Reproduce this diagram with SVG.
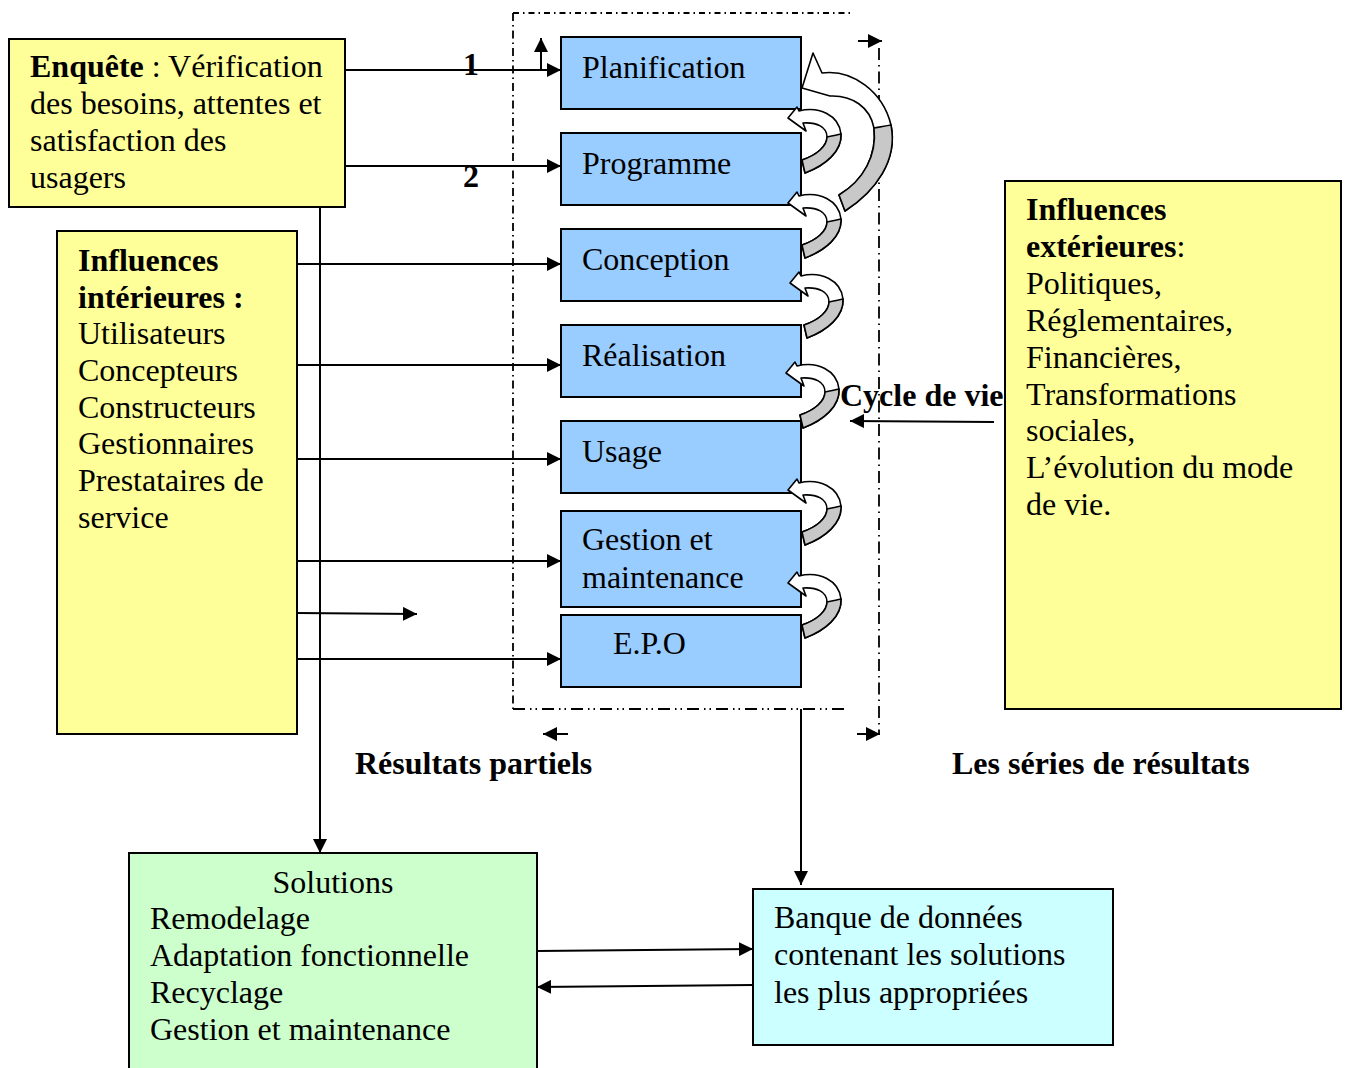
<svg xmlns="http://www.w3.org/2000/svg" width="1346" height="1068" viewBox="0 0 1346 1068">
  <defs>
    <marker id="arr" markerUnits="userSpaceOnUse" markerWidth="15" markerHeight="14" refX="14" refY="7" orient="auto">
      <path d="M0,0 L14,7 L0,14 Z" fill="#000"/>
    </marker>
    <!-- small U-turn block arrow, tip at the origin -->
    <g id="uturn">
      <path class="ribbon" d="M0,0 L9,-11 L11,-7 C31,-12 51,-3 53,16 C54,33 38,47 17,55 L14,42 C29,37 39,28 39,19 C39,9 29,4 15,5 L18,13 Z"/>
      <path class="under" d="M53,16 C54,33 38,47 17,55 L14,42 C29,37 39,28 39,19 C44,18 49,17 53,16 Z"/>
    </g>
  </defs>
  <style>
    text { font-family: "Liberation Serif", "Times New Roman", serif; font-size: 32px; fill: #000; }
    .b { font-weight: bold; }
    .box { stroke: #000; stroke-width: 2; }
    .yellow { fill: #FFFF99; }
    .blue { fill: #99CCFF; }
    .green { fill: #CCFFCC; }
    .cyan { fill: #CCFFFF; }
    .line { fill: none; stroke: #000; stroke-width: 2; }
    .ribbon { fill: #fff; stroke: #000; stroke-width: 1.6; stroke-linejoin: round; }
    .under { fill: #C8C8C8; stroke: #000; stroke-width: 1.6; stroke-linejoin: round; }
    .dd { fill: none; stroke: #000; stroke-width: 1.8; }
  </style>

  <rect width="1346" height="1068" fill="#fff"/>

  <!-- survey box -->
  <g id="enquete">
    <rect class="box yellow" x="9" y="39" width="336" height="168"/>
    <text x="30" y="77"><tspan class="b">Enquête</tspan> : Vérification</text>
    <text x="30" y="114">des besoins, attentes et</text>
    <text x="30" y="151">satisfaction des</text>
    <text x="30" y="188">usagers</text>
  </g>

  <!-- internal influences -->
  <g id="influences-interieures">
    <rect class="box yellow" x="57" y="231" width="240" height="503"/>
    <text class="b" x="78" y="271">Influences</text>
    <text class="b" x="78" y="308">intérieures :</text>
    <text x="78" y="344">Utilisateurs</text>
    <text x="78" y="381">Concepteurs</text>
    <text x="78" y="418">Constructeurs</text>
    <text x="78" y="454">Gestionnaires</text>
    <text x="78" y="491">Prestataires de</text>
    <text x="78" y="528">service</text>
  </g>

  <!-- external influences -->
  <g id="influences-exterieures">
    <rect class="box yellow" x="1005" y="181" width="336" height="528"/>
    <text class="b" x="1026" y="220">Influences</text>
    <text x="1026" y="257"><tspan class="b">extérieures</tspan>:</text>
    <text x="1026" y="294">Politiques,</text>
    <text x="1026" y="331">Réglementaires,</text>
    <text x="1026" y="368">Financières,</text>
    <text x="1026" y="405">Transformations</text>
    <text x="1026" y="441">sociales,</text>
    <text x="1026" y="478">L’évolution du mode</text>
    <text x="1026" y="515">de vie.</text>
  </g>

  <!-- life-cycle stages -->
  <g id="planification">
    <rect class="box blue" x="561" y="37" width="240" height="72"/>
    <text x="582" y="78">Planification</text>
  </g>
  <g id="programme">
    <rect class="box blue" x="561" y="133" width="240" height="72"/>
    <text x="582" y="174">Programme</text>
  </g>
  <g id="conception">
    <rect class="box blue" x="561" y="229" width="240" height="72"/>
    <text x="582" y="270">Conception</text>
  </g>
  <g id="realisation">
    <rect class="box blue" x="561" y="325" width="240" height="72"/>
    <text x="582" y="366">Réalisation</text>
  </g>
  <g id="usage">
    <rect class="box blue" x="561" y="421" width="240" height="72"/>
    <text x="582" y="462">Usage</text>
  </g>
  <g id="gestion">
    <rect class="box blue" x="561" y="511" width="240" height="96"/>
    <text x="582" y="550">Gestion et</text>
    <text x="582" y="588">maintenance</text>
  </g>
  <g id="epo">
    <rect class="box blue" x="561" y="615" width="240" height="72"/>
    <text x="613" y="654">E.P.O</text>
  </g>

  <!-- solutions -->
  <g id="solutions">
    <rect class="box green" x="129" y="853" width="408" height="230"/>
    <text x="333" y="893" text-anchor="middle">Solutions</text>
    <text x="150" y="929">Remodelage</text>
    <text x="150" y="966">Adaptation fonctionnelle</text>
    <text x="150" y="1003">Recyclage</text>
    <text x="150" y="1040">Gestion et maintenance</text>
  </g>

  <!-- data bank -->
  <g id="banque">
    <rect class="box cyan" x="753" y="889" width="360" height="156"/>
    <text x="774" y="928">Banque de données</text>
    <text x="774" y="965">contenant les solutions</text>
    <text x="774" y="1003">les plus appropriées</text>
  </g>

  <!-- free labels -->
  <g id="labels">
    <text class="b" x="471" y="75" text-anchor="middle">1</text>
    <text class="b" x="471" y="187" text-anchor="middle">2</text>
    <text class="b" x="840" y="406">Cycle de vie</text>
    <text class="b" x="355" y="774">Résultats partiels</text>
    <text class="b" x="952" y="774">Les séries de résultats</text>
  </g>

  <!-- dash-dot frame around the stages -->
  <g id="frame">
    <path class="dd" d="M513,13 H850" stroke-dasharray="6 4 1.5 4"/>
    <path class="dd" d="M513,13 V709" stroke-dasharray="8 4 1.5 4"/>
    <path class="dd" d="M513,709 H845" stroke-dasharray="12 5 1.5 4 1.5 5"/>
    <path class="dd" d="M879,48 V734" stroke-dasharray="12 5 1.5 5"/>
  </g>

  <!-- feedback arrows between stages -->
  <g id="cycle-arrows">
    <path class="ribbon" d="M802,88 L813,53 L822,73 C853,69 883,92 891,125 C898,160 876,191 845,211 L839,195 C864,180 877,155 874,128 C870,107 852,95 830,96 Z"/>
    <path class="under" d="M891,125 C898,160 876,191 845,211 L839,195 C864,180 877,155 874,128 C880,127 885,126 891,125 Z"/>
    <use href="#uturn" transform="translate(788,118)"/>
    <use href="#uturn" transform="translate(788,203)"/>
    <use href="#uturn" transform="translate(790,283)"/>
    <use href="#uturn" transform="translate(786,373)"/>
    <use href="#uturn" transform="translate(788,490)"/>
    <use href="#uturn" transform="translate(788,583)"/>
  </g>

  <!-- connectors -->
  <g id="connectors">
    <path class="line" d="M345,70 H561" marker-end="url(#arr)"/>
    <path class="line" d="M541,70 V38" marker-end="url(#arr)"/>
    <path class="line" d="M345,166 H561" marker-end="url(#arr)"/>
    <path class="line" d="M320,207 V853" marker-end="url(#arr)"/>
    <path class="line" d="M297,264 H561" marker-end="url(#arr)"/>
    <path class="line" d="M297,365 H561" marker-end="url(#arr)"/>
    <path class="line" d="M297,459 H561" marker-end="url(#arr)"/>
    <path class="line" d="M297,561 H561" marker-end="url(#arr)"/>
    <path class="line" d="M297,613 L417,614" marker-end="url(#arr)"/>
    <path class="line" d="M297,659 H561" marker-end="url(#arr)"/>
    <path class="line" d="M994,422 L850,421" marker-end="url(#arr)"/>
    <path class="line" d="M801,709 V885" marker-end="url(#arr)"/>
    <path class="line" d="M537,951 L753,949" marker-end="url(#arr)"/>
    <path class="line" d="M753,985 L537,987" marker-end="url(#arr)"/>
    <path class="line" d="M858,41 H882" marker-end="url(#arr)"/>
    <path class="line" d="M568,734 H543" marker-end="url(#arr)"/>
    <path class="line" d="M857,734 H880" marker-end="url(#arr)"/>
  </g>
</svg>
